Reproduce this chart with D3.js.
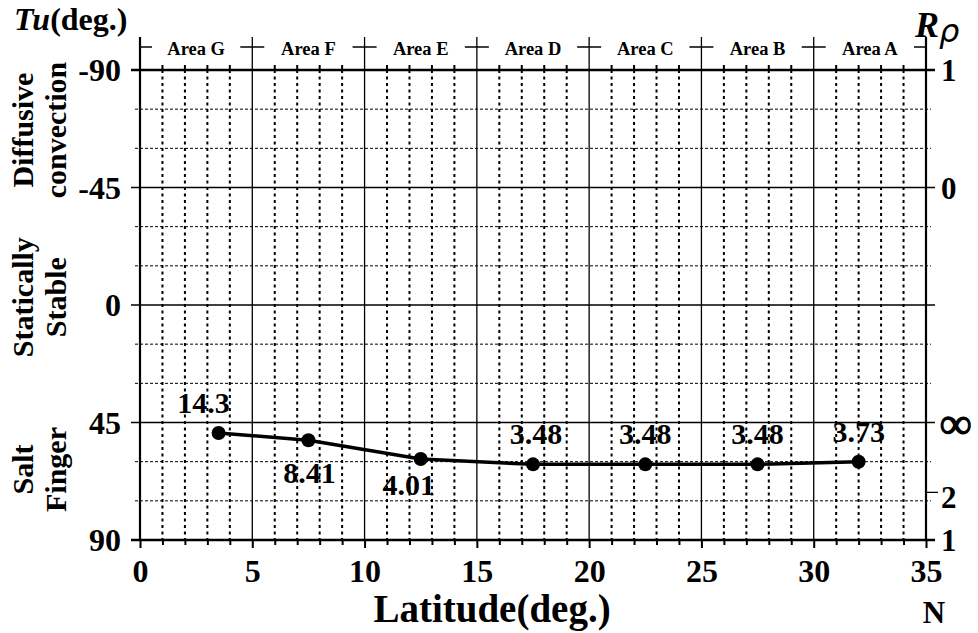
<!DOCTYPE html>
<html>
<head>
<meta charset="utf-8">
<script src="https://cdn.jsdelivr.net/npm/d3@7"></script>
<style>
  html, body { margin: 0; padding: 0; background: #fff; }
  svg { display: block; }
  text { font-family: "Liberation Serif", "Times New Roman", serif; font-weight: bold; fill: #000; }
</style>
</head>
<body>
<div id="chart"></div>
<script>
// Latitude of each sampled area (deg.) and its density ratio R_rho
const latitude = [3.5, 7.5, 12.5, 17.5, 22.5, 27.5, 32];
const densityRatio = [14.3, 8.41, 4.01, 3.48, 3.48, 3.48, 3.73];

// Area bands along the latitude axis
const areaNames = ["Area G", "Area F", "Area E", "Area D", "Area C", "Area B", "Area A"];
const areaBounds = [0, 5, 10, 15, 20, 25, 30, 35];

// Axis ticks
const latTicks = [0, 5, 10, 15, 20, 25, 30, 35];
const tuTicks = [-90, -45, 0, 45, 90];
const tuMinor = [-75, -60, -30, -15, 15, 30, 60, 75];
const rhoTickTu = [-90, -45, 45, 71.57, 90];
const rhoTickLabels = ["1", "0", "\u221E", "2", "1"];

// Regime names on the left, with the Tu value each is centred on
const regimes = [
  { lines: ["Diffusive", "convection"], tu: -67 },
  { lines: ["Statically", "Stable"], tu: -3 },
  { lines: ["Salt", "Finger"], tu: 63 }
];

// Placement of the value labels relative to their points
const labelOffset = [[-15, -20], [1, 43], [-12, 36], [3, -20], [0, -20], [0, -20], [0, -20]];

// Turner angle from density ratio in the salt-finger regime: Tu = 135° - atan(R_rho)
const toTu = r => 135 - Math.atan(r) * 180 / Math.PI;
const points = latitude.map((lat, i) => ({ lat, r: densityRatio[i], tu: toTu(densityRatio[i]) }));

const W = 978, H = 633;
const svg = d3.select("#chart").append("svg").attr("width", W).attr("height", H);
svg.append("rect").attr("width", W).attr("height", H).attr("fill", "#fff");

const x = d3.scaleLinear().domain([0, 35]).range([140, 926]);
const y = d3.scaleLinear().domain([-90, 90]).range([70, 540]);
const x0 = x(0), x1 = x(35), yTop = y(-90), yBot = y(90);
const areaLineTop = 37, areaMarkY = 47;

const grid = svg.append("g");

// dotted minor verticals every degree
grid.selectAll("line.vminor")
  .data(d3.range(1, 35).filter(d => d % 5 !== 0))
  .join("line")
  .attr("x1", d => x(d)).attr("x2", d => x(d))
  .attr("y1", yTop).attr("y2", yBot)
  .attr("stroke", "#000").attr("stroke-width", 2).attr("stroke-dasharray", "3,3.5");

// dashed minor horizontals
grid.selectAll("line.hminor")
  .data(tuMinor)
  .join("line")
  .attr("x1", x0 - 5).attr("x2", x1 + 5)
  .attr("y1", d => y(d)).attr("y2", d => y(d))
  .attr("stroke", "#000").attr("stroke-width", 1).attr("stroke-dasharray", "3,2");

// solid verticals at area boundaries, running up to the area markers
grid.selectAll("line.vmajor")
  .data(areaBounds)
  .join("line")
  .attr("x1", d => x(d)).attr("x2", d => x(d))
  .attr("y1", areaLineTop).attr("y2", yBot)
  .attr("stroke", "#000")
  .attr("stroke-width", d => (d === 0 || d === 35) ? 2.2 : 1.3);

// solid horizontals at the regime boundaries
grid.selectAll("line.hmajor")
  .data(tuTicks)
  .join("line")
  .attr("x1", x0 - 9).attr("x2", x1 + 9)
  .attr("y1", d => y(d)).attr("y2", d => y(d))
  .attr("stroke", "#000")
  .attr("stroke-width", d => (d === -90 || d === 90) ? 2.6 : 1.6);

// area markers across the top
grid.selectAll("line.amark")
  .data(areaBounds)
  .join("line")
  .attr("x1", d => d === 0 ? x(d) : x(d) - 12)
  .attr("x2", d => d === 35 ? x(d) : x(d) + 12)
  .attr("y1", areaMarkY).attr("y2", areaMarkY)
  .attr("stroke", "#000").attr("stroke-width", 1.5);

svg.append("g").selectAll("text")
  .data(areaNames)
  .join("text")
  .attr("x", (d, i) => x((areaBounds[i] + areaBounds[i + 1]) / 2))
  .attr("y", 55)
  .attr("text-anchor", "middle")
  .attr("font-size", 18.5)
  .text(d => d);

// bottom latitude axis
const bottom = svg.append("g")
  .attr("transform", `translate(0,${yBot})`)
  .call(d3.axisBottom(x).tickValues(d3.range(0, 36)).tickSizeOuter(0)
    .tickFormat(d => latTicks.includes(d) ? String(d) : ""));
bottom.select(".domain").remove();
bottom.selectAll(".tick line")
  .attr("stroke", "#000").attr("stroke-width", 2)
  .attr("y2", d => latTicks.includes(d) ? 8 : 5);
bottom.selectAll(".tick text")
  .attr("y", 19).attr("font-size", 32)
  .attr("font-family", null).style("font-family", null);

// top ticks every degree
svg.append("g").selectAll("line")
  .data(d3.range(1, 35).filter(d => d % 5 !== 0))
  .join("line")
  .attr("x1", d => x(d)).attr("x2", d => x(d))
  .attr("y1", yTop - 5).attr("y2", yTop)
  .attr("stroke", "#000").attr("stroke-width", 2);

// left Tu axis
const left = svg.append("g")
  .attr("transform", `translate(${x0},0)`)
  .call(d3.axisLeft(y).tickValues(tuTicks).tickSize(0).tickSizeOuter(0).tickFormat(d => String(d)));
left.select(".domain").remove();
left.selectAll(".tick text").attr("x", -19).attr("dy", "0.33em").attr("font-size", 32);

// right R_rho axis
const isInf = (d, i) => rhoTickLabels[i] === "\u221E";
const right = svg.append("g")
  .attr("transform", `translate(${x1},0)`)
  .call(d3.axisRight(y).tickValues(rhoTickTu).tickSize(0).tickSizeOuter(0)
    .tickFormat((d, i) => rhoTickLabels[i]));
right.select(".domain").remove();
right.selectAll(".tick line")
  .attr("stroke", "#000").attr("stroke-width", 1.3)
  .attr("x2", (d, i) => rhoTickLabels[i] === "2" ? 12 : 0);
right.selectAll(".tick text")
  .attr("x", (d, i) => isInf(d, i) ? 14 : 15)
  .attr("dy", (d, i) => rhoTickLabels[i] === "2" ? "0.5em" : "0.34em")
  .attr("font-size", (d, i) => isInf(d, i) ? 44 : 31)
  .attr("stroke", (d, i) => isInf(d, i) ? "#000" : "none")
  .attr("stroke-width", (d, i) => isInf(d, i) ? 1.2 : 0);

// regime names, rotated, on the left
regimes.forEach(rg => {
  const cy = y(rg.tu);
  rg.lines.forEach((ln, j) => {
    svg.append("text")
      .attr("transform", `translate(${33 + j * 33},${cy}) rotate(-90)`)
      .attr("text-anchor", "middle")
      .attr("font-size", 30)
      .text(ln);
  });
});

// axis titles
const tuTitle = svg.append("text").attr("x", 14).attr("y", 30).attr("font-size", 32);
tuTitle.append("tspan").attr("font-style", "italic").text("Tu");
tuTitle.append("tspan").text("(deg.)");

const rhoTitle = svg.append("text").attr("x", 915).attr("y", 37);
rhoTitle.append("tspan").attr("font-style", "italic").attr("font-size", 36).text("R");
rhoTitle.append("tspan").attr("font-style", "italic").attr("font-size", 32)
  .attr("font-weight", "normal")
  .style("font-family", "'DejaVu Sans', sans-serif").attr("dy", 5).text("\u03C1");

svg.append("text").attr("x", 492).attr("y", 622).attr("text-anchor", "middle")
  .attr("font-size", 39).text("Latitude(deg.)");
svg.append("text").attr("x", 934).attr("y", 623).attr("text-anchor", "middle")
  .attr("font-size", 31).text("N");

// density ratio profile
svg.append("path")
  .datum(points)
  .attr("fill", "none").attr("stroke", "#000").attr("stroke-width", 3.5)
  .attr("stroke-linejoin", "round")
  .attr("d", d3.line().x(d => x(d.lat)).y(d => y(d.tu)));

svg.append("g").selectAll("circle")
  .data(points)
  .join("circle")
  .attr("cx", d => x(d.lat)).attr("cy", d => y(d.tu)).attr("r", 7)
  .attr("fill", "#000");

svg.append("g").selectAll("text")
  .data(points)
  .join("text")
  .attr("x", (d, i) => x(d.lat) + labelOffset[i][0])
  .attr("y", (d, i) => y(d.tu) + labelOffset[i][1])
  .attr("text-anchor", "middle")
  .attr("font-size", 30)
  .text(d => String(d.r));
</script>
</body>
</html>
